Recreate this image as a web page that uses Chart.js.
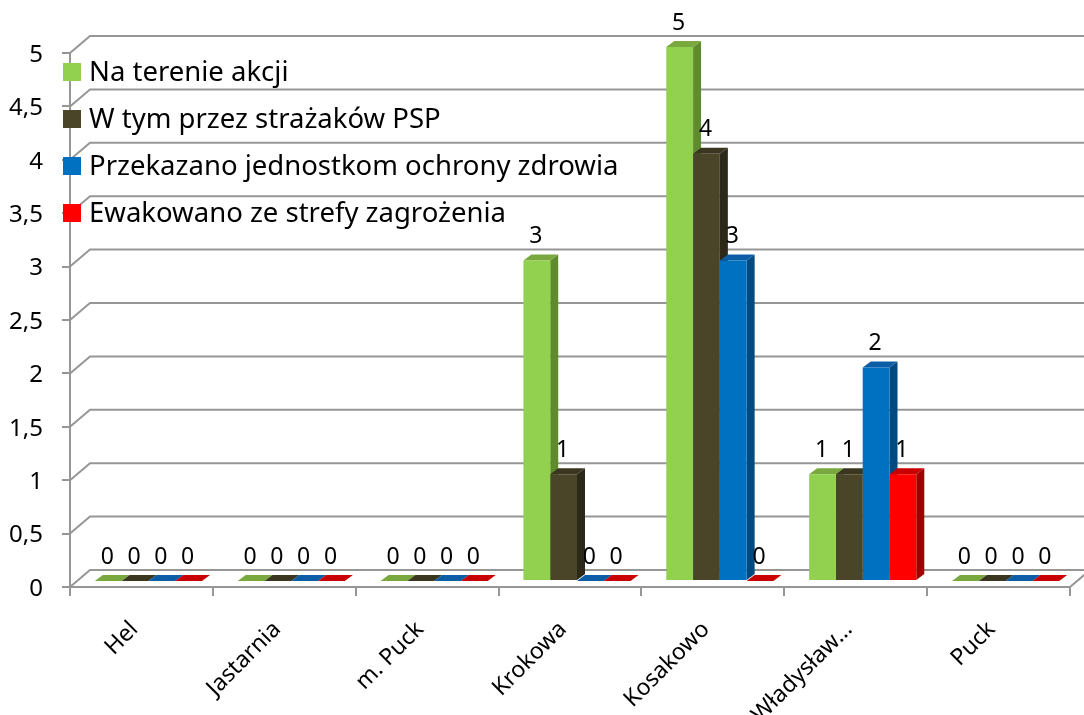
<!DOCTYPE html>
<html>
<head>
<meta charset="utf-8">
<script src="https://cdn.jsdelivr.net/npm/chart.js@4.4.0/dist/chart.umd.min.js"></script>
<style>
  html, body { margin: 0; padding: 0; background: #fff; }
  #wrap { width: 1084px; height: 715px; position: relative; }
</style>
</head>
<body>
<div id="wrap"><canvas id="chart"></canvas></div>
<script>
// Data
const categories = ['Hel', 'Jastarnia', 'm. Puck', 'Krokowa', 'Kosakowo', 'Władysławowo', 'Puck'];
const seriesNames = [
  'Na terenie akcji',
  'W tym przez strażaków PSP',
  'Przekazano jednostkom ochrony zdrowia',
  'Ewakowano ze strefy zagrożenia'
];
const onSite    = [0, 0, 0, 3, 5, 1, 0];
const byPSP     = [0, 0, 0, 1, 4, 1, 0];
const toHealth  = [0, 0, 0, 0, 3, 2, 0];
const evacuated = [0, 0, 0, 0, 0, 1, 0];
const yTicks = [0, 0.5, 1, 1.5, 2, 2.5, 3, 3.5, 4, 4.5, 5];

const frontColors = ['#92d050', '#4a4529', '#0070c0', '#ff0000'];
const topColors   = ['#79a83f', '#3a3620', '#0b5ea6', '#c80000'];
const sideColors  = ['#608a2e', '#2c2918', '#004a80', '#a00000'];

// fake 3D geometry
const WALL_DX = 20, WALL_DY = 17;   // back wall offset
const OFF_X = 7, OFF_Y = 6;         // bars sit a bit behind the front edge
const BAR_DX = 8, BAR_DY = 6;       // bar depth
const FONT = 'Noto Sans, sans-serif';

const series = [onSite, byPSP, toHealth, evacuated];

const threeD = {
  id: 'threeD',
  beforeDatasetsDraw(chart) {
    const { ctx, chartArea: a, scales: { y } } = chart;
    ctx.save();
    ctx.strokeStyle = '#969696';
    ctx.lineWidth = 2;
    // back wall gridlines with the diagonal from the front axis
    yTicks.forEach(v => {
      const py = y.getPixelForValue(v);
      ctx.beginPath();
      ctx.moveTo(a.left, py);
      ctx.lineTo(a.left + WALL_DX, py - WALL_DY);
      ctx.lineTo(chart.width, py - WALL_DY);
      ctx.stroke();
    });
    // right edge of the floor
    ctx.beginPath();
    ctx.moveTo(a.right, a.bottom);
    ctx.lineTo(a.right + WALL_DX, a.bottom - WALL_DY);
    ctx.stroke();

    // sides and tops, left to right, fronts come after from Chart.js
    const bars = [];
    chart.data.datasets.forEach((ds, i) => {
      chart.getDatasetMeta(i).data.forEach(el => bars.push({ el, i }));
    });
    bars.sort((p, q) => p.el.x - q.el.x);
    bars.forEach(({ el, i }) => {
      const l = el.x - el.width / 2 + OFF_X, r = el.x + el.width / 2 + OFF_X;
      const t = el.y - OFF_Y, b = el.base - OFF_Y;
      ctx.fillStyle = sideColors[i];
      ctx.beginPath();
      ctx.moveTo(r, t); ctx.lineTo(r + BAR_DX, t - BAR_DY);
      ctx.lineTo(r + BAR_DX, b - BAR_DY); ctx.lineTo(r, b);
      ctx.closePath(); ctx.fill();
      ctx.fillStyle = topColors[i];
      ctx.beginPath();
      ctx.moveTo(l, t); ctx.lineTo(r, t);
      ctx.lineTo(r + BAR_DX, t - BAR_DY); ctx.lineTo(l + BAR_DX, t - BAR_DY);
      ctx.closePath(); ctx.fill();
    });
    ctx.restore();
    ctx.save();
    ctx.translate(OFF_X, -OFF_Y);
  },
  afterDatasetsDraw(chart) {
    chart.ctx.restore();
  },
  afterDraw(chart) {
    const ctx = chart.ctx;
    ctx.save();
    // value labels
    ctx.fillStyle = '#000';
    ctx.font = '23px ' + FONT;
    ctx.textAlign = 'center';
    ctx.textBaseline = 'middle';
    chart.data.datasets.forEach((ds, i) => {
      chart.getDatasetMeta(i).data.forEach((el, j) => {
        ctx.fillText(String(ds.data[j]), el.x + OFF_X - 1, el.y - OFF_Y - 24);
      });
    });
    // legend, floating over the plot
    ctx.font = '27.5px ' + FONT;
    ctx.textAlign = 'left';
    seriesNames.forEach((name, i) => {
      const cy = 72 + i * 47;
      ctx.fillStyle = frontColors[i];
      ctx.fillRect(63, cy - 9, 18, 18);
      ctx.fillStyle = '#000';
      ctx.fillText(name, 89, cy + 1);
    });
    ctx.restore();
  }
};

new Chart(document.getElementById('chart'), {
  type: 'bar',
  data: {
    labels: categories,
    datasets: series.map((d, i) => ({
      label: seriesNames[i],
      data: d,
      backgroundColor: frontColors[i],
      borderWidth: 0,
      barPercentage: 1,
      categoryPercentage: 0.75,
      clip: false
    }))
  },
  options: {
    responsive: true,
    maintainAspectRatio: false,
    animation: false,
    layout: { padding: { top: 53, right: 14, left: 0, bottom: 0 } },
    plugins: { legend: { display: false }, tooltip: { enabled: false } },
    scales: {
      x: {
        grid: { drawOnChartArea: false, drawTicks: true, tickLength: 9, color: '#969696', lineWidth: 2, offset: true },
        border: { display: true, color: '#969696', width: 2 },
        ticks: {
          color: '#000',
          font: { family: FONT, size: 23 },
          minRotation: 45, maxRotation: 45,
          autoSkip: false,
          padding: 20,
          labelOffset: -7,
          callback: function(v) {
            const s = this.getLabelForValue(v);
            return s.length > 10 ? s.slice(0, 9) + '…' : s;
          }
        },
        afterFit(s) { s.height = 128; }
      },
      y: {
        min: 0, max: 5,
        grid: { drawOnChartArea: false, tickLength: 8, color: '#969696', lineWidth: 2 },
        border: { display: true, color: '#969696', width: 2 },
        ticks: {
          stepSize: 0.5,
          color: '#000',
          font: { family: FONT, size: 24 },
          padding: 19,
          labelOffset: 2,
          callback: v => String(v).replace('.', ',')
        },
        afterFit(s) { s.width = 70; }
      }
    }
  },
  plugins: [threeD]
});
</script>
</body>
</html>
